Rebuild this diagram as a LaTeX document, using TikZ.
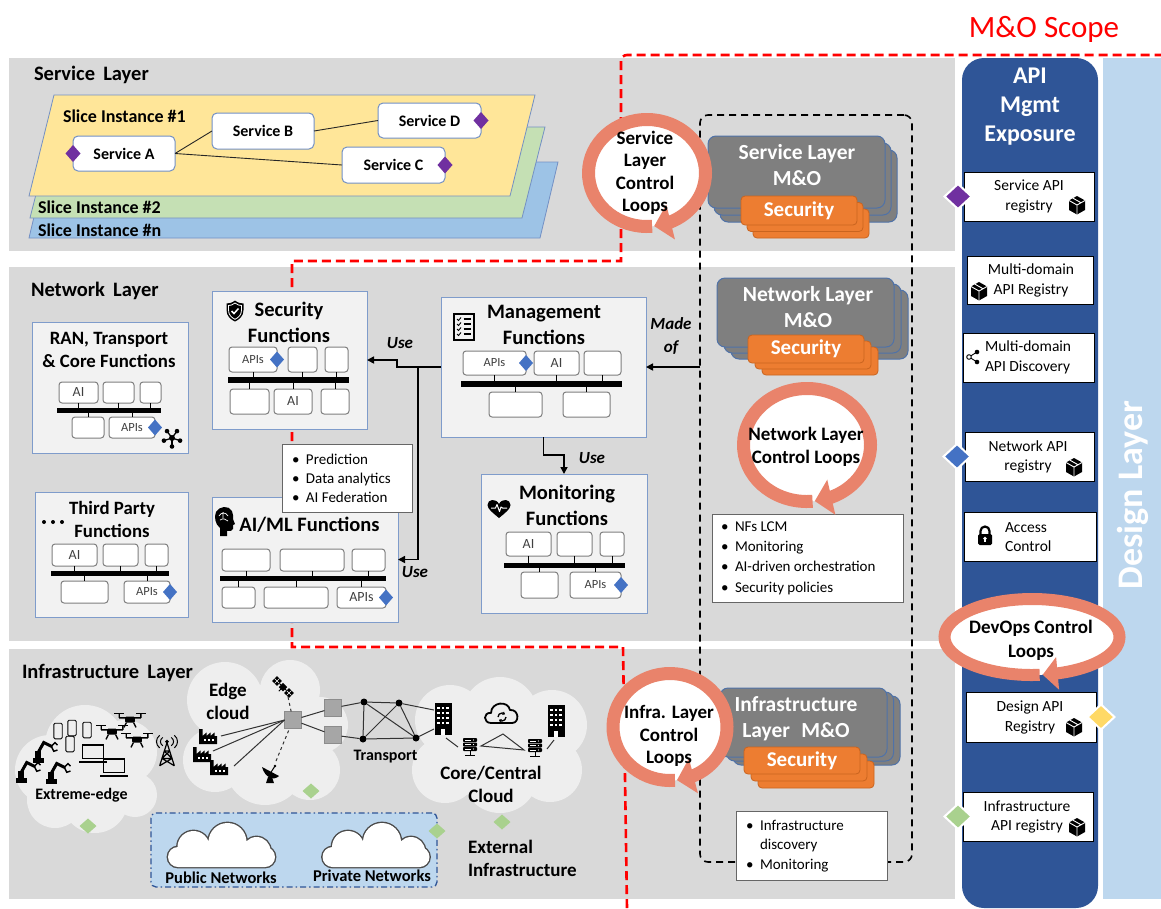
\documentclass[tikz,border=0pt]{standalone}
\usepackage{fontspec}
\setmainfont{Carlito}
\usetikzlibrary{arrows.meta,bending,shapes.geometric,calc}

\definecolor{laygray}{HTML}{D9D9D9}
\definecolor{fgray}{HTML}{F2F2F2}
\definecolor{fborder}{HTML}{7F9CCB}
\definecolor{iboxedge}{HTML}{7F7F7F}
\definecolor{mogray}{HTML}{7F7F7F}
\definecolor{moborder}{HTML}{4F72A8}
\definecolor{secorange}{HTML}{ED7D31}
\definecolor{secedge}{HTML}{C9641F}
\definecolor{loopc}{HTML}{E9836B}
\definecolor{apiblue}{HTML}{2F5597}
\definecolor{designblue}{HTML}{BDD7EE}
\definecolor{dpurple}{HTML}{7030A0}
\definecolor{dblue}{HTML}{4472C4}
\definecolor{dyellow}{HTML}{FFD966}
\definecolor{dgreen}{HTML}{A9D18E}
\definecolor{sliceone}{HTML}{FFE699}
\definecolor{slicetwo}{HTML}{C5E0B4}
\definecolor{slicen}{HTML}{9DC3E6}
\definecolor{sliceedge}{HTML}{7390C4}
\definecolor{cloudgray}{HTML}{EEEEEE}
\definecolor{scopered}{HTML}{FF0000}
\definecolor{apitext}{HTML}{404040}
\definecolor{netgray}{HTML}{A6A6A6}

\newcommand\fsz[2]{\fontsize{#1}{#2}\selectfont}
% node spanning the rectangle (x1,y1)-(x2,y2)
\newcommand\boxat[7]{\node[#1, anchor=north west, minimum width={(#4)-(#2)}, minimum height={(#5)-(#3)}] (#6) at (#2,#3) {#7};}
% three stacked rounded boxes, front one named
\newcommand\mostack[8]{%
  \draw[#1] ({#2+2*(#6)},{#3+2*(#7)}) rectangle ({#4+2*(#6)},{#5+2*(#7)});
  \draw[#1] ({#2+#6},{#3+#7}) rectangle ({#4+#6},{#5+#7});
  \boxat{#1}{#2}{#3}{#4}{#5}{#8}{}}
% short links from boxes to a bus bar
\newcommand\upstubs[2]{\foreach \bxn in {#2}{\draw[stub] (\bxn.south) -- (\bxn.south |- #1.north);}}
\newcommand\downstubs[2]{\foreach \bxn in {#2}{\draw[stub] (\bxn.north) -- (\bxn.north |- #1.south);}}
% circular control-loop arrow: cx, cy, rx, ry, width, tip length, tip width
\newcommand\ctlloop[7]{%
  \fill[white] (#1,#2) ellipse[x radius=#3, y radius=#4];
  \draw[draw=loopc, line width=#5, -{Triangle[length=#6, width=#7]}] (#1,#2) ++(85:#3 and #4) arc[start angle=85, end angle=443, x radius=#3, y radius=#4];}
\newcommand\bulletmark{\makebox[14pt][l]{\textbullet}}

\tikzset{
  every node/.style={inner sep=0pt, outer sep=0pt},
  fbox/.style={draw=fborder, fill=fgray, line width=1pt},
  ibox/.style={draw=iboxedge, fill=white, rounded corners=3pt, line width=1pt, font=\fsz{14}{15}, text=apitext},
  apis/.style={font=\fsz{12.5}{14}},
  busbar/.style={fill=black},
  stub/.style={draw=black, line width=0.8pt},
  svc/.style={draw=sliceedge, fill=white, rounded corners=5pt, line width=1pt, font=\bfseries\fsz{16}{18}},
  svcline/.style={draw=black!85, line width=0.9pt},
  sdia/.style={diamond, minimum width=15, minimum height=17},
  bdia/.style={diamond, minimum width=27, minimum height=25, draw=white, line width=2pt},
  gdia/.style={diamond, fill=dgreen, minimum width=17, minimum height=15},
  mo/.style={fill=mogray, draw=moborder, rounded corners=8pt, line width=1pt},
  sec/.style={fill=secorange, draw=secedge, rounded corners=4pt, line width=0.8pt},
  motext/.style={text=white, font=\bfseries\fsz{21.5}{26}, align=center},
  sectext/.style={text=white, font=\bfseries\fsz{21}{22}},
  looptext/.style={font=\bfseries\fsz{19}{22.5}, align=center},
  bulbox/.style={draw=black!60, fill=white, line width=1pt},
  bultext/.style={font=\fsz{15}{20.3}, align=left, anchor=west},
  apibox/.style={draw=black, fill=white, line width=1pt},
  apilbl/.style={font=\fsz{15.5}{19.5}, align=center},
  usearrow/.style={draw=black, line width=1.6pt, -{Triangle[length=7pt, width=7pt]}},
  uselbl/.style={font=\bfseries\itshape\fsz{17}{23}, align=center},
  layerlbl/.style={font=\bfseries\fsz{20.5}{22}, anchor=west},
  ftitle/.style={font=\bfseries\fsz{20.5}{26}, align=center},
  ftitlesm/.style={font=\bfseries\fsz{18.8}{23}, align=center},
  slicelbl/.style={font=\bfseries\fsz{18}{20}, anchor=west},
  scopeline/.style={draw=scopered, line width=2.6pt, dash pattern=on 9pt off 5pt},
  mobound/.style={draw=black, line width=1.6pt, dash pattern=on 7pt off 5pt, rounded corners=8pt},
  netline/.style={draw=black!80, line width=1pt},
  netsq/.style={rectangle, fill=netgray, draw=black!45, minimum size=17},
  netdot/.style={circle, fill=black, minimum size=7},
  infralbl/.style={font=\bfseries\fsz{19}{23}, align=center},
  extbox/.style={fill=designblue, draw=apiblue, line width=1.3pt, dash pattern=on 6pt off 3pt on 1.5pt off 3pt, rounded corners=5pt},
  % icons
  pkgicon/.pic={
    \fill[black] (-8,-4.5) -- (0,-9) -- (8,-4.5) -- (8,5) -- (0,9.5) -- (-8,5) -- cycle;
    \draw[white, line width=0.9pt, line join=round] (-8,-4.5) -- (0,0) -- (8,-4.5) (0,0) -- (0,9.5) (-4,-6.8) -- (4,-2.3);
  },
  shareicon/.pic={
    \draw[black, line width=0.9pt] (-4,0) -- (4,-5) (-4,0) -- (4,5);
    \draw[black, fill=white, line width=0.9pt] (-4,0) circle[radius=2.3];
    \fill[black] (4,-5) circle[radius=2.3] (4,5) circle[radius=2.3];
  },
  lockicon/.pic={
    \draw[black, line width=2.2pt] (-4.5,-1) -- (-4.5,-4) arc[start angle=180, end angle=360, radius=4.5] -- (4.5,-1);
    \fill[black, rounded corners=1.5pt] (-7,-1) rectangle (7,10);
    \fill[white] (0,3.5) circle[radius=1.8];
    \fill[white] (-0.8,3.5) rectangle (0.8,7);
  },
  shieldicon/.pic={
    \fill[black] (0,-10.5) .. controls (3,-8) and (6,-7.5) .. (8.5,-7.5) -- (8.5,-1) .. controls (8.5,5) and (4.5,8.5) .. (0,10.5) .. controls (-4.5,8.5) and (-8.5,5) .. (-8.5,-1) -- (-8.5,-7.5) .. controls (-6,-7.5) and (-3,-8) .. (0,-10.5) -- cycle;
    \draw[white, line width=0.8pt] (0,-8) .. controls (2.5,-6) and (4.5,-5.5) .. (6.5,-5.5) -- (6.5,-1) .. controls (6.5,4) and (3.5,6.5) .. (0,8.3) .. controls (-3.5,6.5) and (-6.5,4) .. (-6.5,-1) -- (-6.5,-5.5) .. controls (-4.5,-5.5) and (-2.5,-6) .. (0,-8) -- cycle;
    \draw[white, line width=1.5pt] (-3.5,0) -- (-1,2.5) -- (3.5,-2.5);
  },
  headicon/.pic={
    \fill[black] (-4,15) -- (-4,7) .. controls (-9,3) and (-10,-4) .. (-8,-9) .. controls (-5,-15) and (5,-16) .. (8,-10) .. controls (9.5,-7) and (9,-4) .. (9,-2) -- (11,3) -- (9,4) -- (9,8) .. controls (9,10) and (6,10) .. (3,10) -- (3,15) -- cycle;
    \draw[white, line width=0.7pt] (-5,-5) .. controls (-3,-9) and (2,-9) .. (4,-5) (-4,-1) .. controls (-1,-3) and (2,-2) .. (4,0) (-1,-9) -- (-1,-3);
  },
  listicon/.pic={
    \draw[black, line width=1.3pt] (-10,-13) rectangle (10,13);
    \foreach \cy in {-8,-3,2,7}{\draw[black, line width=0.9pt] (-7,\cy) -- (-5.5,\cy+1.5) -- (-3,\cy-1.5); \draw[black, line width=1.1pt] (-0.5,\cy) -- (7,\cy);}
  },
  hearticon/.pic={
    \fill[black] (0,9) .. controls (-6,4) and (-11.5,0) .. (-11.5,-4) .. controls (-11.5,-10) and (-3,-11) .. (0,-5) .. controls (3,-11) and (11.5,-10) .. (11.5,-4) .. controls (11.5,0) and (6,4) .. (0,9) -- cycle;
    \draw[white, line width=1pt, line join=round] (-8,-1) -- (-3.5,-1) -- (-2,-4.5) -- (0.5,2.5) -- (2,-2) -- (3.5,-1) -- (8,-1);
  },
  hubicon/.pic={
    \foreach \a in {18,90,162,234,306}{\draw[black, line width=1.3pt] (0,0) -- (\a:8.5); \fill[black] (\a:8.5) circle[radius=2.3];}
    \fill[black] (0,0) circle[radius=3];
  },
  bldicon/.pic={
    \fill[black] (-8.5,-16) rectangle (8.5,16);
    \foreach \cx in {-4.5,0,4.5}{\foreach \cy in {-11,-6,-1,4}{\fill[white] (\cx-1.3,\cy-1.3) rectangle (\cx+1.3,\cy+1.3);}}
    \fill[white] (-2,10) rectangle (2,16);
  },
  srvicon/.pic={
    \foreach \cy in {-7,-2.5,2}{\fill[black, rounded corners=0.8pt] (-7,\cy-2) rectangle (7,\cy+2); \fill[white] (3.5,\cy) circle[radius=0.7]; \draw[white, line width=0.5pt] (-5,\cy) -- (1,\cy);}
    \draw[black, line width=1pt] (0,4) -- (0,8) (-5,8) -- (5,8);
  },
  syncicon/.pic={
    \draw[black, line width=1.8pt, line join=round] (-11,9) .. controls (-19,9) and (-19,-2) .. (-11,-1) .. controls (-11,-12) and (6,-14) .. (8,-4) .. controls (17,-5) and (18,9) .. (10,9) -- cycle;
    \draw[black, line width=1.3pt, -{Triangle[length=2.5pt,width=3.5pt]}] (-4,3) arc[start angle=180, end angle=320, radius=4];
    \draw[black, line width=1.3pt, -{Triangle[length=2.5pt,width=3.5pt]}] (4,3) arc[start angle=0, end angle=140, radius=4];
  },
  saticon/.pic={
    \begin{scope}[rotate=-45]
      \fill[black] (-3,-3) rectangle (3,3);
      \fill[black] (-12,-3.5) rectangle (-5,3.5) (5,-3.5) rectangle (12,3.5);
      \draw[white, line width=0.5pt] (-8.5,-3.5) -- (-8.5,3.5) (8.5,-3.5) -- (8.5,3.5) (-12,0) -- (-5,0) (5,0) -- (12,0);
      \draw[black, line width=1pt] (-5,0) -- (5,0) (0,3) -- (0,6);
    \end{scope}
  },
  dishicon/.pic={
    \fill[black] (-9,-5) .. controls (-6,6) and (3,9) .. (8,4) -- cycle;
    \draw[black, line width=1pt] (-0.5,1) -- (4,-6);
    \fill[black] (4,-6) circle[radius=1.3];
    \fill[black] (-3,5) -- (1,5) -- (3,11) -- (-5,11) -- cycle;
  },
  towericon/.pic={
    \draw[black, line width=1.2pt, line join=round] (-7,15) -- (0,-7) -- (7,15) (-4.8,8) -- (4.8,8) (-2.6,1) -- (2.6,1) (-7,15) -- (4.8,8) (7,15) -- (-4.8,8) (-4.8,8) -- (2.6,1) (4.8,8) -- (-2.6,1);
    \fill[black] (0,-8) circle[radius=1.8];
    \draw[black, line width=1pt] (-4,-12) .. controls (-7,-10) and (-7,-6) .. (-4,-4) (4,-12) .. controls (7,-10) and (7,-6) .. (4,-4) (-7,-14) .. controls (-11,-11) and (-11,-5) .. (-7,-2) (7,-14) .. controls (11,-11) and (11,-5) .. (7,-2);
  },
  facticon/.pic={
    \fill[black] (-9,7) -- (-9,-8) -- (-5.5,-8) -- (-5.5,-1) -- (-1.5,-4.5) -- (-1.5,-1) -- (2.5,-4.5) -- (2.5,-1) -- (6.5,-4.5) -- (6.5,-1) -- (9,-1) -- (9,7) -- cycle;
    \foreach \cx in {-3.5,0.5,4.5}{\fill[white] (\cx-1,2) rectangle (\cx+1,4);}
  },
  droneicon/.pic={
    \fill[black, rounded corners=1pt] (-4,-2) rectangle (4,3);
    \draw[black, line width=1.4pt] (-9,-1) -- (9,-1) (-9,-1) -- (-9,-4) (9,-1) -- (9,-4) (-3,3) -- (-5,7) (3,3) -- (5,7);
    \draw[black, line width=1.6pt] (-13,-4.5) -- (-5,-4.5) (5,-4.5) -- (13,-4.5);
  },
  phoneicon/.pic={
    \draw[black, line width=0.9pt, rounded corners=1.2pt] (-3.5,-6.5) rectangle (3.5,6.5);
  },
  laptopicon/.pic={
    \draw[black, line width=1.2pt] (-9,-7) rectangle (9,5);
    \draw[black, line width=1.8pt] (-12,7.5) -- (12,7.5);
  },
  roboticon/.pic={
    \fill[black] (-10,6) rectangle (-1,10);
    \fill[black] (-8,1) rectangle (-3,6);
    \draw[black, line width=3pt, line cap=round] (-5.5,2) -- (-1,-6) -- (5,-3);
    \draw[black, line width=1.4pt] (5,-3) -- (8,-6) -- (10,-4) (5,-3) -- (7,1) -- (10,0);
  },
  netcloud/.pic={
    \draw[black!70, line width=2.8pt, rounded corners=10pt] (-53.5,2) rectangle (53.5,22);
    \draw[black!70, line width=2.8pt] (-28,2) circle[radius=16] (6,-3) circle[radius=19] (35,6) circle[radius=14];
    \fill[white, rounded corners=10pt] (-53.5,2) rectangle (53.5,22);
    \fill[white] (-28,2) circle[radius=16] (6,-3) circle[radius=19] (35,6) circle[radius=14];
  }
}

\begin{document}
\begin{tikzpicture}[x=1pt, y=-1pt]
\path[use as bounding box, fill=white] (0,0) rectangle (1161,908);

% ---------- frame: title, layers, side columns ----------
\node[text=scopered, font=\fsz{31}{34}] (scopetitle) at (1044,29) {M\&O Scope};

\fill[laygray] (9,58) rectangle (955,251);
\fill[laygray] (9,267) rectangle (955,641);
\fill[laygray] (9,649) rectangle (955,899);

\fill[designblue] (1103,58) rectangle (1161,899);
\node[rotate=90, text=white, font=\bfseries\fsz{36}{40}] (designlbl) at (1133,495) {Design Layer};
\fill[apiblue, rounded corners=22pt] (962,58) rectangle (1098,908);
\node[text=white, font=\bfseries\fsz{24}{29}, align=center] (apihead) at (1030,107) {API\\Mgmt\\Exposure};

% M&O scope boundary
\draw[scopeline] (627,908) -- (623,647) -- (292,647) -- (292,261) -- (621,261) [rounded corners=6pt] -- (621,55) -- (1161,55);
% M&O block boundary
\node[mobound, anchor=north west, minimum width=212, minimum height=747] (mobox) at (700,115) {};

% ---------- service layer ----------
\node[layerlbl] (svclbl) at (34,75) {Service\hspace{0.4em}Layer};
\filldraw[fill=slicen, draw=sliceedge, line width=0.8pt] (29,238) -- (47,162) -- (558,162) -- (540,238) -- cycle;
\filldraw[fill=slicetwo, draw=sliceedge, line width=0.8pt] (30,218) -- (53,127) -- (545,127) -- (522,218) -- cycle;
\filldraw[fill=sliceone, draw=sliceedge, line width=0.8pt] (29,196) -- (54,95) -- (535,95) -- (510,196) -- cycle;
\node[slicelbl] (slice1lbl) at (63,116) {Slice Instance \#1};
\node[slicelbl] (slice2lbl) at (38,207) {Slice Instance \#2};
\node[slicelbl] (slicenlbl) at (38,230) {Slice Instance \#n};

\boxat{svc}{73}{136}{175}{171}{sA}{Service A}
\boxat{svc}{212}{113}{314}{149}{sB}{Service B}
\boxat{svc}{342}{147}{445}{183}{sC}{Service C}
\boxat{svc}{378}{103}{481}{138}{sD}{Service D}
\draw[svcline] (sA.east) -- (sB.west);
\draw[svcline] (sA.east) -- (sC.west);
\draw[svcline] (sB.east) -- (sD.west);
\node[sdia, fill=dpurple] (dA) at (sA.west) {};
\node[sdia, fill=dpurple] (dC) at (sC.east) {};
\node[sdia, fill=dpurple] (dD) at (sD.east) {};

% ---------- network layer ----------
\node[layerlbl] (netlbl) at (31,291) {Network\hspace{0.4em}Layer};

\boxat{fbox}{32}{322}{188}{453}{ranf}{}
\boxat{fbox}{212}{291}{367}{429}{secf}{}
\boxat{fbox}{35}{492}{188}{617}{tpf}{}
\boxat{fbox}{212}{497}{398}{622}{aimlf}{}
\boxat{fbox}{441}{297}{646}{437}{mgmtf}{}
\boxat{fbox}{481}{474}{647}{613}{monf}{}

\node[ftitlesm] (rantitle) at (109,349.5) {RAN, Transport\\\& Core Functions};
\node[ftitle] (sectitle) at (289,322) {Security\\Functions};
\node[ftitlesm] (tptitle) at (112,519.5) {Third Party\\Functions};
\node[ftitle] (aimltitle) at (309.5,525) {AI/ML Functions};
\node[ftitle] (mgmttitle) at (544,325) {Management\\Functions};
\node[ftitle] (montitle) at (567,505.5) {Monitoring\\Functions};

\pic at (235,311) {shieldicon};
\pic at (224,521) {headicon};
\pic at (464,327) {listicon};
\pic at (499,509) {hearticon};
\pic at (172,438) {hubicon};
\fill[black] (44,522) circle[radius=2] (53,522) circle[radius=2] (62,522) circle[radius=2];

% RAN, transport & core
\boxat{ibox}{59}{382}{98}{403}{ran1}{AI}
\boxat{ibox}{103}{382}{134}{403}{ran2}{}
\boxat{ibox}{140}{382}{161}{403}{ran3}{}
\boxat{busbar}{57}{408}{161}{413}{ranbus}{}
\boxat{ibox}{72}{417}{104}{438}{ran4}{}
\boxat{ibox,apis}{109}{417}{155}{438}{ran5}{APIs}
\upstubs{ranbus}{ran1,ran2,ran3}
\downstubs{ranbus}{ran4,ran5}
\node[sdia, fill=dblue, minimum width=14, minimum height=16] (ranapi) at (ran5.east) {};

% security functions
\boxat{ibox,apis}{229}{347}{277}{372}{sec1}{APIs}
\boxat{ibox}{288}{347}{317}{372}{sec2}{}
\boxat{ibox}{325}{347}{348}{372}{sec3}{}
\boxat{busbar}{228}{377}{349}{383}{secbus}{}
\boxat{ibox}{230}{389}{269}{414}{sec4}{}
\boxat{ibox}{274}{389}{312}{414}{sec5}{AI}
\boxat{ibox}{321}{389}{349}{414}{sec6}{}
\upstubs{secbus}{sec1,sec2,sec3}
\downstubs{secbus}{sec4,sec5,sec6}
\node[sdia, fill=dblue, minimum width=14, minimum height=16] (secapi) at (sec1.east) {};

% third party functions
\boxat{ibox}{52}{544}{97}{566}{tp1}{AI}
\boxat{ibox}{103}{544}{138}{566}{tp2}{}
\boxat{ibox}{145}{544}{168}{566}{tp3}{}
\boxat{busbar}{51}{571}{169}{576}{tpbus}{}
\boxat{ibox}{61}{581}{108}{603}{tp4}{}
\boxat{ibox,apis}{124}{581}{170}{603}{tp5}{APIs}
\upstubs{tpbus}{tp1,tp2,tp3}
\downstubs{tpbus}{tp4,tp5}
\node[sdia, fill=dblue, minimum width=14, minimum height=16] (tpapi) at (tp5.east) {};

% AI/ML functions
\boxat{ibox}{222}{549}{270}{571}{ai1}{}
\boxat{ibox}{280}{549}{344}{571}{ai2}{}
\boxat{ibox}{352}{549}{385}{571}{ai3}{}
\boxat{busbar}{220}{576}{386}{581}{aibus}{}
\boxat{ibox}{222}{587}{255}{608}{ai4}{}
\boxat{ibox}{264}{587}{328}{608}{ai5}{}
\boxat{ibox}{337}{587}{386}{608}{ai6}{APIs}
\upstubs{aibus}{ai1,ai2,ai3}
\downstubs{aibus}{ai4,ai5,ai6}
\node[sdia, fill=dblue, minimum width=14, minimum height=16] (aiapi) at (ai6.east) {};

% management functions
\boxat{ibox,apis}{463}{351}{526}{375}{mg1}{APIs}
\boxat{ibox}{534}{351}{579}{375}{mg2}{AI}
\boxat{ibox}{584}{351}{621}{375}{mg3}{}
\boxat{busbar}{461}{381}{622}{387}{mgbus}{}
\boxat{ibox}{489}{392}{542}{417}{mg4}{}
\boxat{ibox}{563}{392}{610}{417}{mg5}{}
\upstubs{mgbus}{mg1,mg2,mg3}
\downstubs{mgbus}{mg4,mg5}
\node[sdia, fill=dblue, minimum width=14, minimum height=16] (mgapi) at (mg1.east) {};

% monitoring functions
\boxat{ibox}{506}{532}{551}{556}{mo1}{AI}
\boxat{ibox}{557}{532}{592}{556}{mo2}{}
\boxat{ibox}{600}{532}{624}{556}{mo3}{}
\boxat{busbar}{504}{563}{625}{568}{mobus}{}
\boxat{ibox}{521}{572}{558}{598}{mo4}{}
\boxat{ibox,apis}{570}{572}{621}{598}{mo5}{APIs}
\upstubs{mobus}{mo1,mo2,mo3}
\downstubs{mobus}{mo4,mo5}
\node[sdia, fill=dblue, minimum width=14, minimum height=16] (moapi) at (mo5.east) {};

% AI/ML capabilities
\boxat{bulbox}{282}{444}{412}{512}{aibul}{}
\node[bultext, font=\fsz{15}{19}] (aibultxt) at (292,478) {\bulletmark Prediction\\\bulletmark Data analytics\\\bulletmark AI Federation};

% relations between functions
\coordinate (usejoin) at (418,367);
\draw[usearrow] (mobox.west |- mgmtf.east) -- (mgmtf.east);
\draw[usearrow] (mgmtf.west) -- ++(-44,0) |- (secf.east);
\draw[usearrow] (usejoin) |- (aimlf.east);
\draw[usearrow] (mgmtf.south) -- ++(0,18) -| (monf.north);
\node[uselbl] (madeof) at (671,336.5) {Made\\of};
\node[uselbl] (usesec) at (400,343) {Use};
\node[uselbl] (useai) at (415,572) {Use};
\node[uselbl] (usemon) at (592,458) {Use};

% ---------- M&O stacks ----------
\mostack{mo}{708}{136}{885}{208}{6}{7}{svcmo}
\node[motext] (svcmotxt) at (797,165) {Service Layer\\M\&O};
\mostack{sec}{741}{196}{857}{225}{6}{6.5}{svcsec}
\node[sectext] (svcsectxt) at (svcsec.center) {Security};

\mostack{mo}{717}{278}{894}{347}{7}{6}{netmo}
\node[motext] (netmotxt) at (808,307) {Network Layer\\M\&O};
\mostack{sec}{748}{335}{864}{363}{7}{6}{netsec}
\node[sectext] (netsectxt) at (netsec.center) {Security};

\mostack{mo}{720}{688}{887}{757}{6.5}{4}{infmo}
\node[motext] (infmotxt) at (796,719) {Infrastructure\\Layer\hspace{0.3em} M\&O};
\mostack{sec}{744}{747}{860}{774}{7}{7}{infsec}
\node[sectext] (infsectxt) at (infsec.center) {Security};

\boxat{bulbox}{712}{514}{903}{602}{netbul}{}
\node[bultext] (netbultxt) at (721,558) {\bulletmark NFs LCM\\\bulletmark Monitoring\\\bulletmark AI-driven orchestration\\\bulletmark Security policies};
\boxat{bulbox}{736}{811}{887}{880}{infbul}{}
\node[bultext, font=\fsz{15}{19.5}] (infbultxt) at (746,846) {\bulletmark Infrastructure\\\hspace*{14pt}discovery\\\bulletmark Monitoring};

% ---------- control loops ----------
\ctlloop{647}{173}{58.5}{53.5}{13pt}{17pt}{35pt}
\node[looptext] (svcloop) at (645,173) {Service\\Layer\\Control\\Loops};
\ctlloop{807}{445}{63.5}{56.5}{13pt}{17pt}{35pt}
\node[looptext, font=\bfseries\fsz{19}{23}] (netloop) at (806,447) {Network Layer\\Control Loops};
\ctlloop{670}{727}{57}{53.5}{13pt}{17pt}{35pt}
\node[looptext] (infloop) at (669,736) {Infra. Layer\\Control\\Loops};
\ctlloop{1032}{637}{87.5}{38}{12pt}{15pt}{32pt}
\node[looptext, font=\bfseries\fsz{19}{24}] (devloop) at (1031,640) {DevOps Control\\Loops};

% ---------- API management & exposure ----------
\boxat{apibox}{964}{172}{1094}{221}{apisvc}{}
\node[apilbl] (apisvctxt) at (1029,196.5) {Service API\\registry};
\pic at (1077,205) {pkgicon};
\node[bdia, fill=dpurple] (apisvcdia) at ([xshift=-6pt]apisvc.west) {};

\boxat{apibox}{967}{256}{1093}{304}{apimdr}{}
\node[apilbl] (apimdrtxt) at (1031,280.5) {Multi-domain\\API Registry};
\pic at (979,291) {pkgicon};

\boxat{apibox}{963}{333}{1094}{382}{apimdd}{}
\node[apilbl, align=left, anchor=west] (apimddtxt) at (985,357.5) {Multi-domain\\API Discovery};
\pic at (973,357) {shareicon};

\boxat{apibox}{965}{432}{1094}{481}{apinet}{}
\node[apilbl] (apinettxt) at (1028,457) {Network API\\registry};
\pic at (1074,467) {pkgicon};
\node[bdia, fill=dblue] (apinetdia) at ([xshift=-8pt]apinet.west) {};

\boxat{apibox}{964}{512}{1096}{561}{apiacc}{}
\node[apilbl, align=left, anchor=west, font=\fsz{15.5}{18.5}] (apiacctxt) at (1005,537) {Access\\Control};
\pic at (985,535) {lockicon};

\boxat{apibox}{966}{692}{1096}{742}{apides}{}
\node[apilbl] (apidestxt) at (1030,717.5) {Design API\\Registry};
\pic at (1074,727) {pkgicon};
\node[bdia, fill=dyellow] (apidesdia) at ([xshift=5pt]apides.east) {};

\boxat{apibox}{963}{792}{1093}{841}{apiinf}{}
\node[apilbl] (apiinftxt) at (1027,817) {Infrastructure\\API registry};
\pic at (1077,827) {pkgicon};
\node[bdia, fill=dgreen] (apiinfdia) at ([xshift=-5pt]apiinf.west) {};

% ---------- infrastructure layer ----------
\node[layerlbl] (inflbl) at (22,673) {Infrastructure\hspace{0.4em}Layer};

% cloud areas
\fill[cloudgray] (50,770) circle[radius=35] (85,745) circle[radius=40] (125,752) circle[radius=32] (95,800) circle[radius=33] (55,800) circle[radius=28] (135,795) circle[radius=22];
\fill[cloudgray] (225,700) circle[radius=38] (290,690) circle[radius=30] (320,725) circle[radius=28] (215,760) circle[radius=32] (265,765) circle[radius=40] (310,770) circle[radius=30] (262,725) circle[radius=40];
\fill[cloudgray] (450,720) circle[radius=35] (500,715) circle[radius=38] (552,725) circle[radius=35] (445,770) circle[radius=33] (500,775) circle[radius=38] (550,770) circle[radius=32];

\node[font=\bfseries\fsz{16}{18}] (xedgelbl) at (81.5,795) {Extreme-edge};
\node[infralbl] (edgelbl) at (228,701.5) {Edge\\cloud};
\node[font=\bfseries\fsz{16}{18}] (translbl) at (385.5,757) {Transport};
\node[infralbl] (corelbl) at (491,784.5) {Core/Central\\Cloud};
\node[infralbl, align=left, anchor=west] (extlbl) at (468,858) {External\\Infrastructure};

% extreme edge devices
\pic[scale=1.2] at (58,731) {phoneicon};
\pic[scale=1.2] at (72,728) {phoneicon};
\pic[scale=1.2] at (87,730) {phoneicon};
\pic[scale=1.2] at (70,744) {phoneicon};
\pic[scale=1.2] at (130,719) {droneicon};
\pic[scale=1.2] at (112,731) {droneicon};
\pic[scale=1.2] at (137,739) {droneicon};
\pic[scale=1.25] at (45,750) {roboticon};
\pic[scale=1.25] at (28,770) {roboticon};
\pic[scale=1.25] at (58,771) {roboticon};
\pic[scale=1.15] at (93,753) {laptopicon};
\pic[scale=1.15] at (114,767) {laptopicon};
\pic[scale=1.05] at (167,750) {towericon};

% edge cloud
\pic at (208,737) {facticon};
\pic at (202,755) {facticon};
\pic at (219,768) {facticon};
\pic at (283,687) {saticon};
\pic at (271,772) {dishicon};

% transport network
\node[netsq] (sq1) at (293,720) {};
\node[netsq] (sq2) at (333,708) {};
\node[netsq] (sq3) at (333,735) {};
\node[netdot] (n1) at (364,702) {};
\node[netdot] (n2) at (399,703) {};
\node[netdot] (n3) at (363,739) {};
\node[netdot] (n4) at (416,738) {};
\coordinate (fa) at (221,736);
\coordinate (fb) at (213,751);
\coordinate (fc) at (234,766);
\coordinate (satc) at (288,697);
\coordinate (dishc) at (276,761);
\coordinate (bldA) at (434,710);
\coordinate (bldB) at (434,729);
\draw[netline] (fa) -- (sq1.west);
\draw[netline] (fb) -- (sq1.west);
\draw[netline] (fc) -- (sq1.west);
\draw[netline, dashed] (satc) -- (sq1);
\draw[netline, dashed] (dishc) -- (sq1);
\draw[netline] (sq1) -- (sq2);
\draw[netline] (sq1) -- (sq3);
\draw[netline] (sq2) -- (n1);
\draw[netline] (sq3) -- (n3);
\draw[netline] (n1) -- (n2);
\draw[netline] (n1) -- (n3);
\draw[netline] (n1) -- (n4);
\draw[netline] (n2) -- (n3);
\draw[netline] (n2) -- (n4);
\draw[netline] (n3) -- (n4);
\draw[netline] (n2) -- (bldA);
\draw[netline] (n4) -- (bldB);

% core / central cloud
\pic at (443,719) {bldicon};
\pic at (556,721) {bldicon};
\pic at (470,747) {srvicon};
\pic at (535,748) {srvicon};
\pic at (502,714) {syncicon};
\coordinate (t1) at (481,746);
\coordinate (t2) at (503,734);
\coordinate (t3) at (524,750);
\coordinate (b1s) at (446,738);
\coordinate (s1n) at (458,747);
\coordinate (b2s) at (554,740);
\coordinate (s2n) at (547,749);
\draw[netline] (t1) -- (t2) -- (t3) -- cycle;
\draw[netline] (b1s) -- (s1n);
\draw[netline] (b2s) -- (s2n);

% external networks
\node[extbox, anchor=north west, minimum width=286, minimum height=74] (extnet) at (151,813) {};
\pic at (221.5,845) {netcloud};
\pic at (376,845) {netcloud};
\node[font=\bfseries\fsz{16.5}{18}] (publbl) at (221,878) {Public Networks};
\node[font=\bfseries\fsz{16.5}{18}] (privlbl) at (372,876) {Private Networks};

% infrastructure API points
\node[gdia] (gx) at (88,826) {};
\node[gdia] (ge) at (311,791) {};
\node[gdia] (gn) at (437,831) {};
\node[gdia] (gc) at (502,822) {};
\end{tikzpicture}
\end{document}
